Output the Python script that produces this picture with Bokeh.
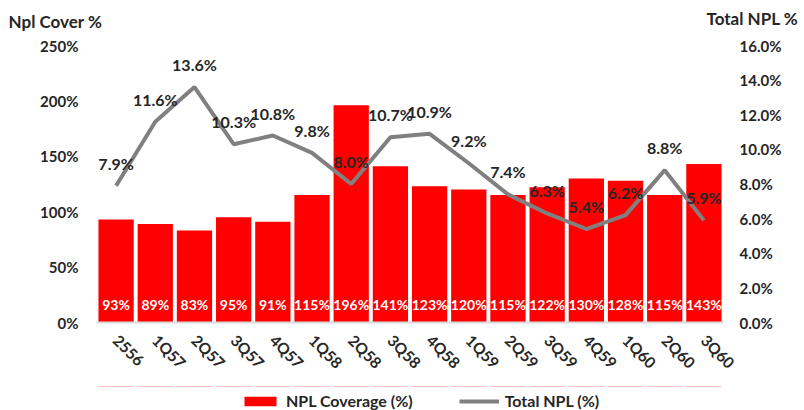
from bokeh.plotting import figure
from bokeh.models import Range1d, LinearAxis, FixedTicker, Legend, LegendItem, Label, ColumnDataSource
from bokeh.layouts import column
from bokeh.core.properties import value
from bokeh.embed import file_html
from bokeh.resources import INLINE
import math

categories = ["2556", "1Q57", "2Q57", "3Q57", "4Q57", "1Q58", "2Q58", "3Q58",
              "4Q58", "1Q59", "2Q59", "3Q59", "4Q59", "1Q60", "2Q60", "3Q60"]
npl_coverage = [93, 89, 83, 95, 91, 115, 196, 141, 123, 120, 115, 122, 130, 128, 115, 143]
total_npl = [7.9, 11.6, 13.6, 10.3, 10.8, 9.8, 8.0, 10.7, 10.9, 9.2, 7.4, 6.3, 5.4, 6.2, 8.8, 5.9]
left_ticks = [0, 50, 100, 150, 200, 250]
right_ticks = [0, 2, 4, 6, 8, 10, 12, 14, 16]

FONT = "Lato"
TXT = "#262626"
RED = "#ff0000"
GRAY = "#808080"

src = ColumnDataSource(dict(
    cat=categories,
    cov=npl_coverage,
    npl=total_npl,
    cov_lbl=[f"{v}%" for v in npl_coverage],
    npl_lbl=[f"{v:.1f}%" for v in total_npl],
    cov_pos=[16] * len(categories),
    npl_pos=[v + 1.3 for v in total_npl],
))

p = figure(x_range=categories, y_range=Range1d(0, 250), width=800, height=386,
           output_backend="svg", toolbar_location=None,
           min_border_left=96, min_border_right=77, min_border_top=45, min_border_bottom=64)
p.extra_y_ranges = {"npl": Range1d(0, 16)}
p.outline_line_color = None
p.xgrid.grid_line_color = None
p.ygrid.grid_line_color = None

p.vbar(x="cat", top="cov", width=0.9, source=src, fill_color=RED, line_color=None)
p.line(x="cat", y="npl", source=src, y_range_name="npl", line_color=GRAY, line_width=4)

p.text(x="cat", y="cov_pos", text="cov_lbl", source=src, text_color="white",
       text_font=value(FONT), text_font_style="bold", text_font_size="14px",
       text_align="center", text_baseline="middle")
p.text(x="cat", y="npl_pos", text="npl_lbl", source=src, y_range_name="npl", text_color=TXT,
       text_font=value(FONT), text_font_style="bold", text_font_size="16px",
       text_align="center", text_baseline="middle")

def style_axis(ax, standoff):
    ax.axis_line_color = None
    ax.major_tick_line_color = None
    ax.minor_tick_line_color = None
    ax.major_tick_out = 0
    ax.major_tick_in = 0
    ax.minor_tick_out = 0
    ax.minor_tick_in = 0
    ax.major_label_text_font = FONT
    ax.major_label_text_font_style = "bold"
    ax.major_label_text_font_size = "15px"
    ax.major_label_text_color = TXT
    ax.major_label_standoff = standoff

# left axis
ya = p.yaxis[0]
ya.ticker = FixedTicker(ticks=left_ticks)
ya.major_label_overrides = {t: f"{t}%" for t in left_ticks}
style_axis(ya, 18)

# right axis
ra = LinearAxis(y_range_name="npl", ticker=FixedTicker(ticks=right_ticks))
ra.major_label_overrides = {t: f"{t:.1f}%" for t in right_ticks}
style_axis(ra, 16)
p.add_layout(ra, "right")

# x axis
xa = p.xaxis[0]
style_axis(xa, 15)
xa.axis_line_color = "#d9d9d9"
xa.axis_line_width = 2
xa.major_label_orientation = -math.pi / 4
xa.major_label_text_font_size = "15.5px"

# titles (in the top panel)
p.add_layout(Label(x=-88, y=14, x_units="screen", y_units="screen", text="Npl Cover %",
                   text_font=FONT, text_font_style="bold", text_font_size="17px",
                   text_color=TXT), "above")
p.add_layout(Label(x=610, y=-4, x_units="screen", y_units="screen", text="Total NPL %",
                   text_font=FONT, text_font_style="bold", text_font_size="17px",
                   text_color=TXT), "above")

# legend strip below the chart (its series sit far outside the strip's visible range)
lg = figure(width=800, height=24, x_range=categories, y_range=Range1d(-1001, -1000),
            output_backend="svg", toolbar_location=None, min_border=0)
lg.extra_y_ranges = {"npl": Range1d(-1001, -1000)}
lg.axis.visible = False
lg.grid.visible = False
lg.outline_line_color = None
leg_bar = lg.vbar(x="cat", top="cov", width=0.9, source=src, fill_color=RED, line_color=None)
leg_line = lg.line(x="cat", y="npl", source=src, y_range_name="npl", line_color=GRAY, line_width=4)
legend = Legend(items=[LegendItem(label="NPL Coverage (%)", renderers=[leg_bar]),
                       LegendItem(label="Total NPL (%)", renderers=[leg_line])],
                orientation="horizontal", location=(144, 0), border_line_color=None,
                background_fill_alpha=0,
                label_text_font=FONT, label_text_font_style="bold", label_text_font_size="16px",
                label_text_color=TXT, glyph_width=40, glyph_height=12, spacing=46,
                margin=0, padding=0, label_standoff=6)
lg.add_layout(legend, "center")

layout = column(p, lg, spacing=0)
open("out.html", "w").write(file_html(layout, INLINE))
